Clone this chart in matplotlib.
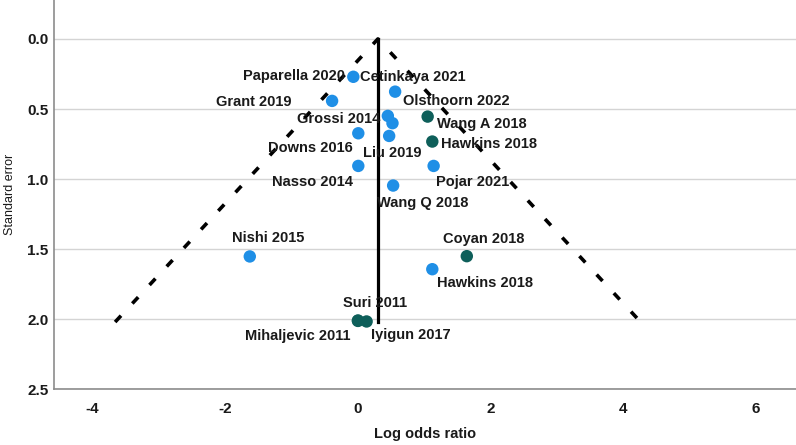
import matplotlib
matplotlib.use("Agg")
import matplotlib.pyplot as plt

# ---- data ----
studies = ["Paparella 2020", "Cetinkaya 2021", "Grant 2019", "Olsthoorn 2022",
           "Grossi 2014", "Wang A 2018", "Downs 2016", "Liu 2019",
           "Hawkins 2018", "Nasso 2014", "Pojar 2021", "Wang Q 2018",
           "Nishi 2015", "Coyan 2018", "Hawkins 2018", "Suri 2011",
           "Mihaljevic 2011", "Iyigun 2017"]
log_or = [-0.07, 0.56, -0.39, 0.52, 0.45, 1.05, 0.005, 0.47,
          1.12, 0.005, 1.14, 0.53, -1.63, 1.64, 1.12, 0.0, 0.0, 0.13]
std_err = [0.27, 0.376, 0.442, 0.601, 0.549, 0.554, 0.673, 0.692,
           0.732, 0.906, 0.906, 1.046, 1.552, 1.550, 1.643, 2.009, 2.012, 2.016]
group = ["A", "A", "A", "A", "A", "B", "A", "A",
         "B", "A", "A", "A", "A", "B", "A", "B", "B", "B"]
pooled = 0.30
se_max = 2.02
y_ticks = [0.0, 0.5, 1.0, 1.5, 2.0, 2.5]
x_ticks = [-4, -2, 0, 2, 4, 6]

# ---- style / label placement (pixels, y up) ----
colors = {"A": "#1f8fe6", "B": "#0e5f5a"}
label_offsets = [(-59, 1), (18, 15), (-78, -1), (64, 22),
                 (-49, -3), (54, -7), (-48, -15), (3, -17),
                 (57, -2), (-46, -16), (39, -16), (30, -17),
                 (18, 18), (17, 17), (53, -14), (17, 17),
                 (-60, -15), (44, -14)]

plt.rcParams["font.family"] = ["Liberation Sans", "DejaVu Sans"]

fig = plt.figure(figsize=(7.96, 4.45), dpi=100)
ax = fig.add_axes([54 / 796, 1 - 389.3 / 445, 1 - 54 / 796, 389.3 / 445])

ax.set_xlim(-4.58, 6.60)
ax.set_ylim(2.5, -0.278)

for yt in y_ticks:
    ax.axhline(yt, color="#d4d4d4", lw=1.0, zorder=0)

# funnel lines
ax.plot([pooled - 1.96 * se_max, pooled, pooled + 1.96 * se_max],
        [se_max, 0, se_max], color="black", lw=2.6,
        dashes=(2.4, 4.6), zorder=2)
ax.plot([pooled, pooled], [0, se_max], color="black", lw=2.3, zorder=2)

for x, y, g in zip(log_or, std_err, group):
    ax.scatter(x, y, s=80, color=colors[g], edgecolor="none", zorder=3)

for name, x, y, off in zip(studies, log_or, std_err, label_offsets):
    ax.annotate(name, (x, y), xytext=off, textcoords="offset pixels",
                ha="center", va="center", fontsize=10.5, fontweight="bold",
                color="#1a1a1a", zorder=4)

ax.set_yticks(y_ticks)
ax.set_yticklabels([f"{v:.1f}" for v in y_ticks])
ax.set_xticks(x_ticks)
ax.set_xticklabels([str(v) for v in x_ticks])
ax.tick_params(axis="both", length=0, labelsize=11, colors="#1a1a1a")
ax.tick_params(axis="x", pad=9)
ax.tick_params(axis="y", pad=4)
for lbl in ax.get_xticklabels() + ax.get_yticklabels():
    lbl.set_fontweight("bold")

for s in ["top", "right"]:
    ax.spines[s].set_visible(False)
for s in ["left", "bottom"]:
    ax.spines[s].set_color("#8c8c8c")
    ax.spines[s].set_linewidth(1.2)

ax.set_xlabel("Log odds ratio", fontsize=10.5, fontweight="bold",
              color="#1a1a1a", labelpad=8)
ax.set_ylabel("Standard error", fontsize=9, color="#1a1a1a", labelpad=8)

fig.savefig("out.png", dpi=100)
